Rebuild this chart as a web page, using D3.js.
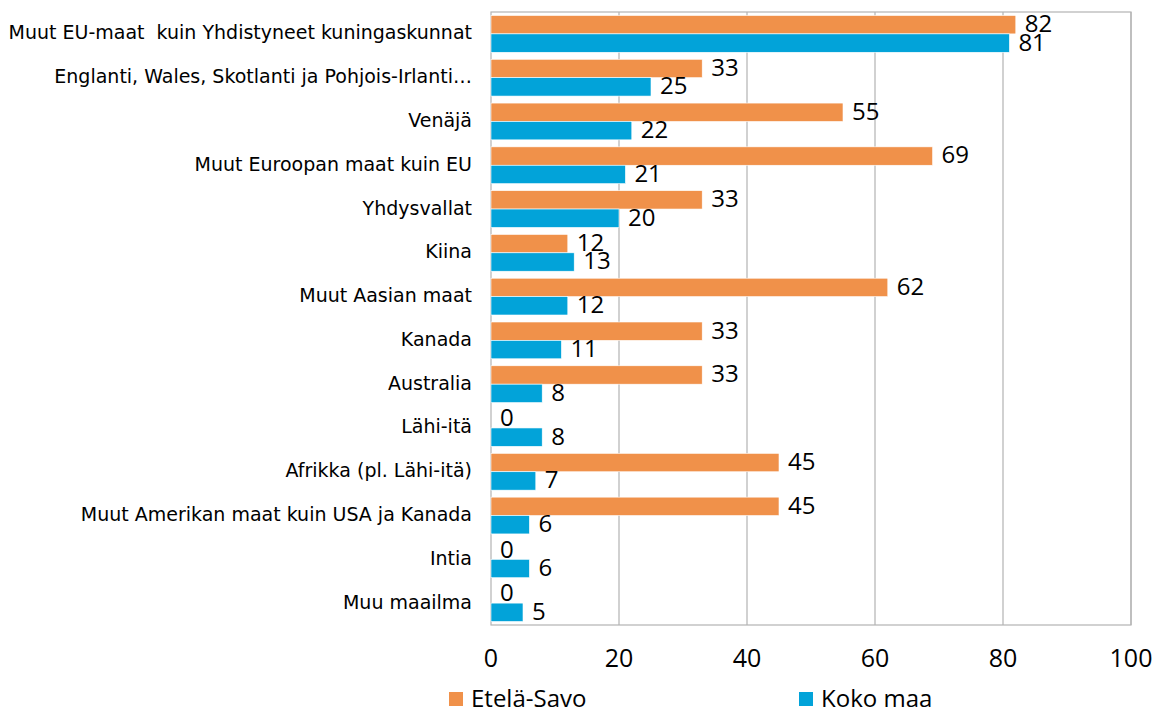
<!DOCTYPE html>
<html lang="fi">
<head>
    <meta charset="utf-8">
    <script src="https://d3js.org/d3.v7.min.js"></script>
    <style>
        body { margin: 0; background: #fff; }
    </style>
</head>
<body>
    <div id="graph"></div>
    <script>
        // chart data
        var categories = [
            "Muut EU-maat  kuin Yhdistyneet kuningaskunnat",
            "Englanti, Wales, Skotlanti ja Pohjois-Irlanti…",
            "Venäjä",
            "Muut Euroopan maat kuin EU",
            "Yhdysvallat",
            "Kiina",
            "Muut Aasian maat",
            "Kanada",
            "Australia",
            "Lähi-itä",
            "Afrikka (pl. Lähi-itä)",
            "Muut Amerikan maat kuin USA ja Kanada",
            "Intia",
            "Muu maailma"
        ];
        var etelaSavo = [82, 33, 55, 69, 33, 12, 62, 33, 33, 0, 45, 45, 0, 0];
        var kokoMaa = [81, 25, 22, 21, 20, 13, 12, 11, 8, 8, 7, 6, 6, 5];
        var seriesNames = ["Etelä-Savo", "Koko maa"];
        var seriesColors = ["#f0914a", "#02a3d9"];
        var xTicks = [0, 20, 40, 60, 80, 100];

        var width = 1168, height = 713;
        var margin = { top: 12, right: 37, bottom: 88, left: 491 };

        var svg = d3.select("#graph").append("svg")
            .attr("width", width)
            .attr("height", height);

        var x = d3.scaleLinear()
            .domain([0, 100])
            .range([margin.left, width - margin.right]);

        var y = d3.scaleBand()
            .domain(categories)
            .range([margin.top, height - margin.bottom])
            .paddingInner(0.16)
            .paddingOuter(0.08);

        var inner = d3.scaleBand()
            .domain([0, 1])
            .range([0, y.bandwidth()]);

        // gridlines
        svg.append("g")
            .selectAll("line")
            .data(xTicks.slice(1))
            .enter().append("line")
            .attr("x1", d => x(d)).attr("x2", d => x(d))
            .attr("y1", margin.top).attr("y2", height - margin.bottom)
            .attr("stroke", "#b3b3b3")
            .attr("stroke-width", 1.2);

        // plot frame
        svg.append("rect")
            .attr("x", x(0)).attr("y", margin.top)
            .attr("width", x(100) - x(0))
            .attr("height", height - margin.bottom - margin.top)
            .attr("fill", "none")
            .attr("stroke", "#b3b3b3")
            .attr("stroke-width", 1.2);

        var rows = categories.map((c, i) => ({ cat: c, vals: [etelaSavo[i], kokoMaa[i]] }));

        var group = svg.append("g")
            .selectAll("g")
            .data(rows)
            .enter().append("g")
            .attr("transform", d => "translate(0," + y(d.cat) + ")");

        group.selectAll("rect")
            .data(d => d.vals.map((v, s) => ({ v: v, s: s })))
            .enter().append("rect")
            .attr("x", x(0))
            .attr("y", d => inner(d.s))
            .attr("width", d => x(d.v) - x(0))
            .attr("height", inner.bandwidth())
            .attr("fill", d => seriesColors[d.s])
            .attr("stroke", "#fff")
            .attr("stroke-width", 0.6);

        // value labels (overlaps as in the original)
        group.selectAll("text")
            .data(d => d.vals.map((v, s) => ({ v: v, s: s })))
            .enter().append("text")
            .attr("x", d => x(d.v) + 9)
            .attr("y", d => inner(d.s) + inner.bandwidth() / 2 + 1)
            .attr("dominant-baseline", "middle")
            .style("font-family", "'Open Sans', sans-serif")
            .style("font-size", "24px")
            .style("fill", "#000")
            .text(d => d.v);

        // category labels
        svg.append("g")
            .selectAll("text")
            .data(categories)
            .enter().append("text")
            .attr("x", margin.left - 19)
            .attr("y", d => y(d) + y.bandwidth() / 2)
            .attr("text-anchor", "end")
            .attr("dominant-baseline", "middle")
            .style("white-space", "pre")
            .style("font-family", "'DejaVu Sans', sans-serif")
            .style("font-size", "19px")
            .style("fill", "#000")
            .text(d => d);

        // x tick labels
        svg.append("g")
            .selectAll("text")
            .data(xTicks)
            .enter().append("text")
            .attr("x", d => x(d))
            .attr("y", 660)
            .attr("text-anchor", "middle")
            .attr("dominant-baseline", "middle")
            .style("font-family", "'Open Sans', sans-serif")
            .style("font-size", "25px")
            .text(d => d);

        // legend
        var legendX = [449, 799];
        var legend = svg.append("g")
            .selectAll("g")
            .data(seriesNames)
            .enter().append("g")
            .attr("transform", (d, i) => "translate(" + legendX[i] + ",692)");

        legend.append("rect")
            .attr("width", 14).attr("height", 14)
            .attr("fill", (d, i) => seriesColors[i]);

        legend.append("text")
            .attr("x", 22).attr("y", 15)
            .style("font-family", "'Open Sans', sans-serif")
            .style("font-size", "24px")
            .text(d => d);
    </script>
</body>
</html>
